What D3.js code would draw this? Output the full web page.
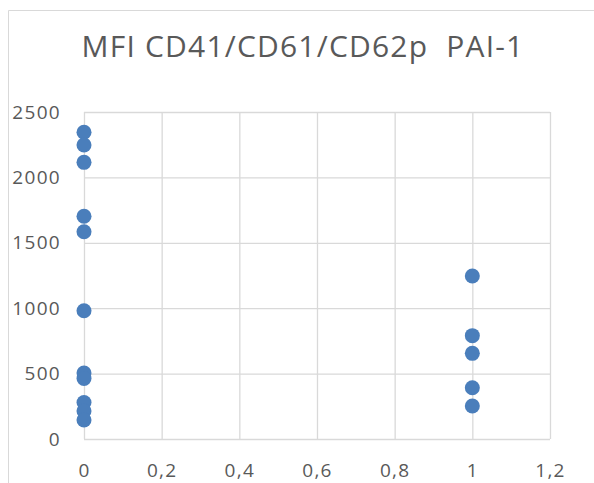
<!DOCTYPE html>
<html><head><meta charset="utf-8">
<script src="https://cdn.jsdelivr.net/npm/d3@7"></script>
<style>html,body{margin:0;padding:0;background:#fff;}svg{display:block;}</style>
</head><body>
<svg id="c" width="594" height="483"></svg>
<script>
const title = "MFI CD41/CD61/CD62p  PAI-1";
const groupX = [0, 1];
const valuesAt0 = [2345, 2248, 2115, 1703, 1585, 981, 505, 462, 279, 214, 145];
const valuesAt1 = [1246, 790, 655, 392, 252];
const xTickValues = [0, 0.2, 0.4, 0.6, 0.8, 1, 1.2];
const xTickLabels = ["0", "0,2", "0,4", "0,6", "0,8", "1", "1,2"];
const yTickValues = [0, 500, 1000, 1500, 2000, 2500];
const yTickLabels = ["0", "500", "1000", "1500", "2000", "2500"];

const points = [];
valuesAt0.forEach(v => points.push({x: groupX[0], y: v}));
valuesAt1.forEach(v => points.push({x: groupX[1], y: v}));

const svg = d3.select("#c");
const x = d3.scaleLinear().domain([0, 1.2]).range([84, 550]);
const y = d3.scaleLinear().domain([0, 2500]).range([439, 112]);
const grid = "#d9d9d9", txt = "#595959", font = "'Open Sans', sans-serif";

// chart border (cut at right/bottom)
svg.append("path").attr("d", "M8.5,483 L8.5,10.5 L594,10.5")
  .attr("fill", "none").attr("stroke", grid).attr("stroke-width", 1);

// title
svg.append("text").attr("x", 303).attr("y", 57).attr("text-anchor", "middle")
  .style("white-space", "pre").attr("xml:space", "preserve")
  .attr("font-family", font).attr("font-size", 30).attr("letter-spacing", 1.2)
  .attr("fill", txt).text(title);

// horizontal gridlines
const yAxis = d3.axisLeft(y).tickValues(yTickValues)
  .tickFormat((d, i) => yTickLabels[i]).tickSize(-(x(1.2) - x(0))).tickPadding(23);
const gy = svg.append("g").attr("transform", `translate(${x(0)},0)`).call(yAxis);
gy.select(".domain").remove();
gy.selectAll(".tick line").attr("stroke", grid).attr("stroke-width", 1.3);
gy.selectAll(".tick text").attr("font-family", font).attr("font-size", 19)
  .attr("fill", txt).attr("letter-spacing", 1.3);

// vertical gridlines
const xAxis = d3.axisBottom(x).tickValues(xTickValues)
  .tickFormat((d, i) => xTickLabels[i]).tickSize(-(y(0) - y(2500))).tickPadding(25);
const gx = svg.append("g").attr("transform", `translate(0,${y(0)})`).call(xAxis);
gx.select(".domain").remove();
gx.selectAll(".tick line").attr("stroke", grid).attr("stroke-width", 1.3);
gx.selectAll(".tick text").attr("font-family", font).attr("font-size", 19)
  .attr("fill", txt).attr("letter-spacing", 1.3);

// points
svg.append("g").selectAll("circle").data(points).join("circle")
  .attr("cx", d => x(d.x)).attr("cy", d => y(d.y)).attr("r", 7.5)
  .attr("fill", "#4a7ebb");
</script>
</body></html>
